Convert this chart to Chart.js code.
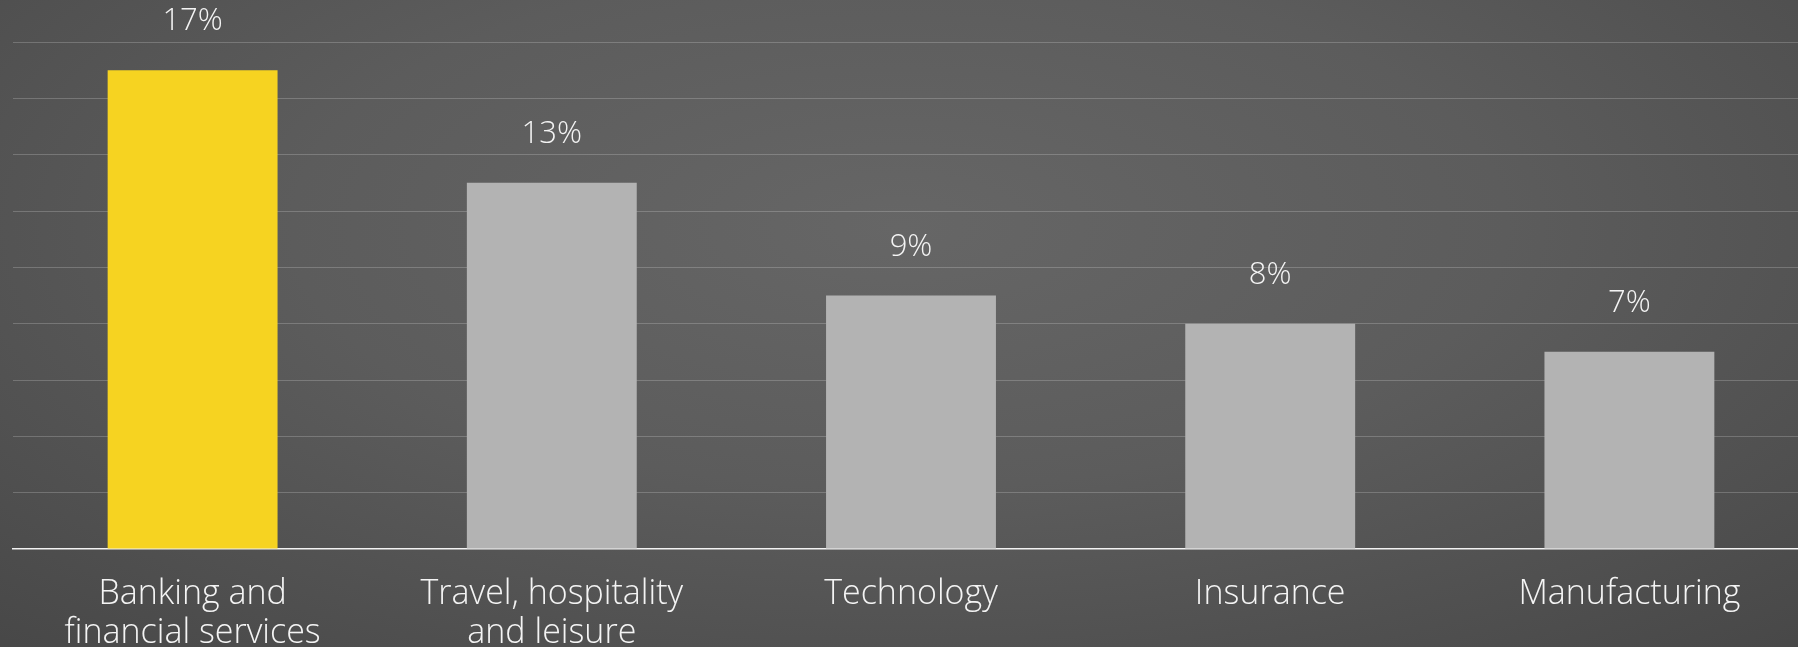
<!DOCTYPE html>
<html>
<head>
<meta charset="utf-8">
<script src="https://cdn.jsdelivr.net/npm/chart.js@4.4.1/dist/chart.umd.min.js"></script>
<style>
html, body { margin: 0; padding: 0; }
body {
  width: 1798px;
  height: 647px;
  overflow: hidden;
  background: radial-gradient(ellipse 75% 90% at 50% 35%, #666666 0%, #5c5c5c 45%, #474747 100%);
}
#wrap { width: 1798px; height: 647px; overflow: hidden; }
</style>
</head>
<body>
<div id="wrap"><canvas id="sectorChart" width="1810" height="647"></canvas></div>
<script>
const categories = [
  ["Banking and", "financial services"],
  ["Travel, hospitality", "and leisure"],
  "Technology",
  "Insurance",
  "Manufacturing"
];
const shares = [17, 13, 9, 8, 7];
const barColors = ["#f6d321", "#b3b3b3", "#b3b3b3", "#b3b3b3", "#b3b3b3"];
const axisMax = 18;
const axisStep = 2;

const FONT = "'Open Sans', sans-serif";

// draws "17%" etc. above each bar
const valueLabels = {
  id: "valueLabels",
  afterDatasetsDraw(chart) {
    const c = chart.ctx;
    const meta = chart.getDatasetMeta(0);
    c.save();
    c.font = "300 31px " + FONT;
    c.fillStyle = "#f4f4f4";
    c.textAlign = "center";
    c.textBaseline = "alphabetic";
    meta.data.forEach((bar, i) => {
      c.fillText(shares[i] + "%", bar.x, bar.y - 40);
    });
    c.restore();
  }
};

const ctx = document.getElementById("sectorChart");

new Chart(ctx, {
  type: "bar",
  data: {
    labels: categories,
    datasets: [{
      data: shares,
      backgroundColor: barColors,
      borderWidth: 0,
      barPercentage: 0.473,
      categoryPercentage: 1
    }]
  },
  options: {
    responsive: false,
    animation: false,
    layout: { padding: { left: 13, right: 1, top: 42, bottom: 0 } },
    plugins: {
      legend: { display: false },
      tooltip: { enabled: false }
    },
    scales: {
      x: {
        afterFit(scale) { scale.height = 98; },
        grid: { display: false, drawTicks: false },
        border: { display: true, color: "#f2f2f2", width: 1.5 },
        ticks: {
          color: "#f4f4f4",
          padding: 25,
          maxRotation: 0,
          autoSkip: false,
          font: { family: FONT, size: 34, weight: "300", lineHeight: 1.17 }
        }
      },
      y: {
        min: 0,
        max: axisMax,
        ticks: { display: false, stepSize: axisStep },
        border: { display: false },
        grid: {
          drawTicks: false,
          lineWidth: 1,
          color: (c) => c.tick && c.tick.value === 0 ? "rgba(0,0,0,0)" : "rgba(255,255,255,0.2)"
        }
      }
    }
  },
  plugins: [valueLabels]
});
</script>
</body>
</html>
